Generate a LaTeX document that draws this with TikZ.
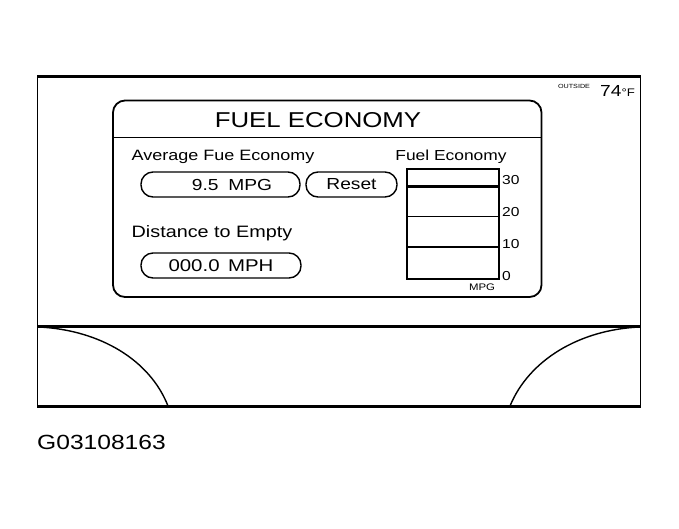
\documentclass[tikz,border=0pt]{standalone}
\usepackage{fontspec}
\setmainfont{Liberation Sans}[FakeStretch=1.2]
\usetikzlibrary{positioning}

\begin{document}
\begin{tikzpicture}[x=1pt, y=-1pt,
    pill/.style={draw, line width=1.4pt, rounded corners=12pt, minimum height=25pt, inner sep=0pt, font=\fontsize{16}{16}\selectfont},
    lbl/.style={inner sep=0pt, anchor=west, font=\fontsize{15}{15}\selectfont},
    tick/.style={inner sep=0pt, anchor=west, font=\fontsize{13}{13}\selectfont}]
    \useasboundingbox (0,0) rectangle (679,528);
    % housing
    \draw[line width=1.2pt] (37.5,76) -- (37.5,406) (640.5,76) -- (640.5,406);
    \draw[line width=3pt] (37,76) -- (641,76);
    \draw[line width=2.5pt] (37,326.5) -- (641,326.5);
    \draw[line width=3pt] (37,406) -- (641,406);
    \draw[line width=1.4pt] (39,327) .. controls (100,330) and (150,360) .. (168,406);
    \draw[line width=1.4pt] (639,327) .. controls (579,330) and (529,360) .. (510,406);
    % screen
    \draw[line width=1.8pt, rounded corners=12pt] (113,100.5) rectangle (541.5,297);
    \draw[line width=0.9pt] (113,137) -- (541.5,137);
    \node[inner sep=0pt, font=\fontsize{21.5}{21.5}\selectfont] (title) at (318,120) {FUEL ECONOMY};
    \node[lbl] (avglbl) at (131.5,157) {Average Fue Economy};
    \node[pill, minimum width=159pt, text width=103pt, align=right] (avg) at (220.5,184.5) {9.5\hspace{0.6em}MPG};
    \node[pill, minimum width=91pt] (reset) at (351.5,184.5) {Reset};
    \node[lbl, font=\fontsize{16.5}{16.5}\selectfont] (dtelbl) at (131.5,233) {Distance to Empty};
    \node[pill, minimum width=160pt, font=\fontsize{17}{17}\selectfont] (dte) at (221,265.5) {000.0\hspace{0.5em}MPH};
    % bar graph
    \node[inner sep=0pt, font=\fontsize{14.5}{14.5}\selectfont] (graphlbl) at (451,157) {Fuel Economy};
    \draw[line width=1.4pt] (407,169) rectangle (499,279);
    \draw[line width=2.5pt] (407,186.5) -- (499,186.5);
    \draw[line width=1pt] (407,216.5) -- (499,216.5);
    \draw[line width=2pt] (407,246.5) -- (499,246.5);
    \foreach \v/\y in {30/180,20/212,10/244,0/276}
        \node[tick] (t\v) at (502,\y) {\v};
    \node[inner sep=0pt, font=\fontsize{9.5}{9.5}\selectfont] (unit) at (482,287) {MPG};
    % outside temperature
    \node[inner sep=0pt, font=\fontsize{6}{6}\selectfont] (outside) at (574,86) {OUTSIDE};
    \node[inner sep=0pt, anchor=west, font=\fontsize{16}{16}\selectfont] (temp) at (600,91) {74{\fontsize{11}{11}\selectfont °F}};
    % figure number
    \node[inner sep=0pt, anchor=west, font=\fontsize{20.5}{20.5}\selectfont] (fig) at (37,442) {G03108163};
\end{tikzpicture}
\end{document}
